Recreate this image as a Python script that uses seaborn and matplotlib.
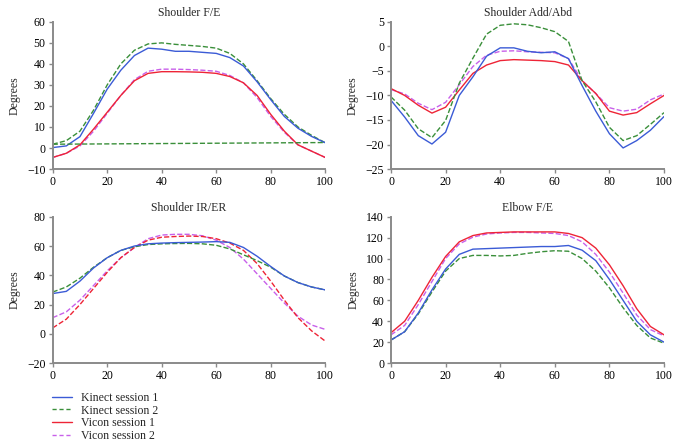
import numpy as np
import pandas as pd
import seaborn as sns
import matplotlib.pyplot as plt
from matplotlib.lines import Line2D

# ---------------------------------------------------------------
# data (% of movement cycle every 5 %)
# ---------------------------------------------------------------
cycle = [0, 5, 10, 15, 20, 25, 30, 35, 40, 45, 50, 55, 60, 65, 70, 75, 80, 85, 90, 95, 100]

# Shoulder F/E
sfe_kinect1 = [0.2, 1.0, 5.4, 16.5, 28, 37, 44, 47.5, 47, 46, 46, 45.5, 45, 43, 39, 31.5, 23, 15, 9.4, 5.5, 2.5]
sfe_kinect2 = [1.8, 3.5, 8, 18, 30, 40, 46.5, 49.5, 50, 49.3, 48.8, 48.3, 47.5, 45, 40, 32, 23.5, 16, 10, 6, 2.5]
sfe_vicon1 = [-4.5, -2.5, 1.5, 9, 17, 25, 32, 35.5, 36.3, 36.3, 36.2, 36, 35.5, 34, 31, 25, 16, 8, 1.5, -1.5, -4.5]
sfe_vicon2 = [-4.5, -2.5, 1, 8, 16.5, 25, 32.5, 36.5, 37.5, 37.5, 37.3, 37, 36.5, 34.5, 31, 24, 15, 7.5, 1.5, -1.5, -4.5]
sfe_trend_x = [0, 100]
sfe_trend_y = [1.8, 2.6]

# Shoulder Add/Abd
saa_kinect1 = [-11, -14.4, -18.2, -19.9, -17.5, -10, -6.2, -2, -0.3, -0.3, -1, -1.3, -1.1, -2.5, -8, -13.2, -17.8, -20.7, -19.2, -17.1, -14.3]
saa_kinect2 = [-10.3, -13, -16.8, -18.6, -15.1, -7.5, -2.4, 2.5, 4.3, 4.6, 4.4, 3.8, 3, 1, -7, -11.3, -16.5, -19.2, -18.2, -15.9, -13.5]
saa_vicon1 = [-8.6, -10, -12, -13.6, -12.4, -8.9, -5.5, -3.8, -2.9, -2.7, -2.8, -2.9, -3.1, -3.8, -7, -9.6, -13.2, -14, -13.5, -11.7, -10]
saa_vicon2 = [-8.8, -9.7, -11.6, -12.9, -11.4, -7.8, -4.1, -1.8, -1, -0.9, -1.1, -1.2, -1.3, -2.5, -7, -9.6, -12.5, -13.2, -12.8, -10.9, -9.7]

# Shoulder IR/ER
sir_kinect1 = [27.5, 29, 36, 45, 52, 57, 60, 61.5, 62, 62.3, 62.5, 62.7, 63, 62.5, 59, 53, 46, 39.5, 35, 32, 30]
sir_kinect2 = [28.5, 32, 38, 45.5, 52, 57, 59.5, 61, 61.5, 61.7, 61.8, 61.5, 60.5, 58, 54, 50, 45.5, 39.5, 35, 32, 30]
sir_vicon1 = [4, 10, 20, 31, 42, 52, 59, 64, 66, 66.5, 66.8, 66.5, 65, 62, 57, 48, 36, 23, 11, 2, -5]
sir_vicon2 = [11, 15, 23, 33, 43, 52, 59, 65, 67.5, 68, 68, 67, 64, 59, 51, 41, 31, 21, 12, 6, 3]

# Elbow F/E
efe_kinect1 = [22, 30, 48, 70, 90, 104, 109, 109.5, 110, 110.5, 111, 111.5, 111.5, 112.5, 108, 98, 80, 60, 40, 27, 20]
efe_kinect2 = [22, 30, 47, 68, 88, 100, 103, 103, 102.5, 103, 105, 106.5, 107.5, 107, 100, 88, 72, 53, 36, 24, 19]
efe_vicon1 = [29, 40, 60, 82, 102, 116, 122, 124.5, 125, 125.5, 125.5, 125.5, 125.5, 124, 120, 110, 94, 74, 52, 35, 27]
efe_vicon2 = [27, 36, 56, 78, 100, 114, 120.5, 123.5, 124.5, 125, 125, 124.5, 124, 122, 116, 104, 87, 67, 46, 32, 26]

series_names = ["Kinect session 1", "Kinect session 2", "Vicon session 1", "Vicon session 2"]

# ---------------------------------------------------------------
# style
# ---------------------------------------------------------------
sns.set_style("ticks")
plt.rcParams["font.family"] = ["Liberation Serif", "DejaVu Serif"]
plt.rcParams["font.size"] = 8.5

C_K1 = "#3b5bd6"
C_K2 = "#3a8f3a"
C_V1 = "#ee2436"
C_V2 = "#c860ea"
AX_GREY = "#8a8a8a"

panels = [
    ("Shoulder F/E", [sfe_kinect1, sfe_kinect2, sfe_vicon1, sfe_vicon2], ["-", "--", "-", "--"], (-10, 60), 10,
     [0.0777, 0.621, 0.402, 0.330]),
    ("Shoulder Add/Abd", [saa_kinect1, saa_kinect2, saa_vicon1, saa_vicon2], ["-", "--", "-", "--"], (-25, 5), 5,
     [0.5767, 0.621, 0.4027, 0.330]),
    ("Shoulder IR/ER", [sir_kinect1, sir_kinect2, sir_vicon1, sir_vicon2], ["-", "--", "--", "--"], (-20, 80), 20,
     [0.0777, 0.186, 0.402, 0.328]),
    ("Elbow F/E", [efe_kinect1, efe_kinect2, efe_vicon1, efe_vicon2], ["-", "--", "-", "--"], (0, 140), 20,
     [0.5767, 0.186, 0.4027, 0.328]),
]
colors = [C_K1, C_K2, C_V1, C_V2]

fig = plt.figure(figsize=(6.78, 4.46), dpi=100)

for title, data, styles, ylim, ystep, pos in panels:
    ax = fig.add_axes(pos)
    # vicon drawn first so the kinect lines sit on top
    for i in [3, 2, 1, 0]:
        sns.lineplot(x=cycle, y=data[i], ax=ax, color=colors[i], linestyle=styles[i],
                     linewidth=1.0, legend=False,
                     dashes=False if styles[i] == "-" else (4, 2.5))
    if title == "Shoulder F/E":
        sns.lineplot(x=sfe_trend_x, y=sfe_trend_y, ax=ax, color=C_K2, linewidth=1.0,
                     linestyle="--", dashes=(4, 2.5), legend=False)
    ax.set_xlim(0, 100)
    ax.set_ylim(*ylim)
    ax.set_xticks(np.arange(0, 101, 20))
    ax.set_yticks(np.arange(ylim[0], ylim[1] + 0.1, ystep))
    ax.set_title(title, fontsize=8.5, pad=4)
    ax.set_ylabel("Degrees", fontsize=8.5, labelpad=5)
    ax.set_xlabel("")
    sns.despine(ax=ax)
    for sp in ["left", "bottom"]:
        ax.spines[sp].set_color(AX_GREY)
        ax.spines[sp].set_linewidth(1.4)
    ax.tick_params(colors=AX_GREY, labelcolor="black", length=3, width=1.0, labelsize=8.5, pad=2)
    ax.yaxis.set_major_formatter(plt.FuncFormatter(lambda v, p: f"{v:.0f}".replace("-", "\u2212")))

handles = [
    Line2D([], [], color=C_K1, lw=1.0, ls="-"),
    Line2D([], [], color=C_K2, lw=1.0, ls=(0, (3, 2))),
    Line2D([], [], color=C_V1, lw=1.0, ls="-"),
    Line2D([], [], color=C_V2, lw=1.0, ls=(0, (3, 2))),
]
fig.legend(handles, series_names, loc="upper left", bbox_to_anchor=(0.077, 0.121),
           frameon=False, fontsize=8.5, handlelength=1.7, handletextpad=0.7,
           labelspacing=0.05, borderaxespad=0, borderpad=0)

fig.savefig("out.png", dpi=100)
